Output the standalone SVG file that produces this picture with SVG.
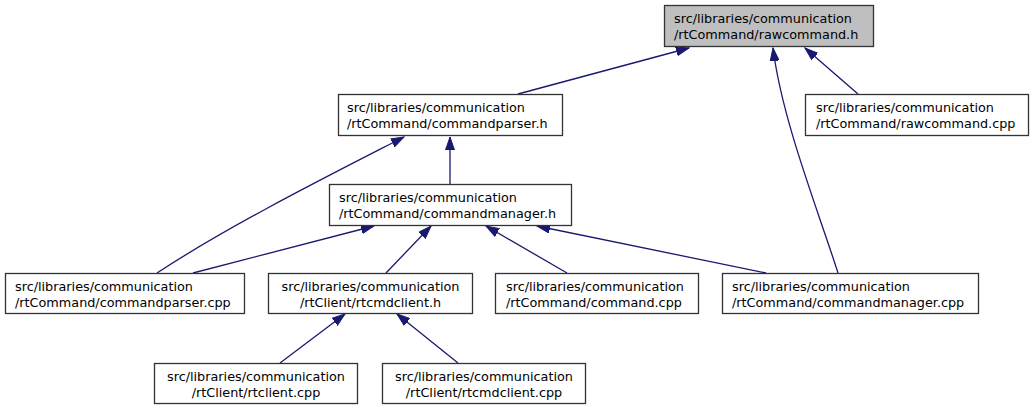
<svg xmlns="http://www.w3.org/2000/svg" width="1033" height="409" viewBox="0 0 1033 409">
<style>
.box{fill:#ffffff;stroke:#333333;stroke-width:1.3}
.root{fill:#bfbfbf;stroke:#333333;stroke-width:1.3}
text{font-family:"DejaVu Sans",sans-serif;font-size:12.8px;fill:#000000}
.c{text-anchor:middle}
.e{fill:none;stroke:#191970;stroke-width:1.3;marker-end:url(#ah)}
</style>
<defs>
<marker id="ah" markerUnits="userSpaceOnUse" markerWidth="14" markerHeight="10" refX="13" refY="5" orient="auto">
<path d="M0,0.5 L13,5 L0,9.5 z" fill="#191970" stroke="#191970" stroke-width="1"/>
</marker>
</defs>
<g id="edges">
<path class="e" d="M518,94 L689,48"/>
<path class="e" d="M838,273 C818,210 782,120 773,48"/>
<path class="e" d="M858,94 L805,48"/>
<path class="e" d="M450,184 L450,137"/>
<path class="e" d="M157,273 C230,225 330,175 404,137"/>
<path class="e" d="M193,273 L374,226"/>
<path class="e" d="M386,273 L431,226"/>
<path class="e" d="M567,273 L486,226"/>
<path class="e" d="M766,273 L537,226"/>
<path class="e" d="M280,363 L345,314"/>
<path class="e" d="M458,363 L397,314"/>
</g>
<g id="rawcommand_h">
<rect class="root" x="664.5" y="5.5" width="209" height="41"/>
<text x="674" y="23">src/libraries/communication</text>
<text x="674" y="39">/rtCommand/rawcommand.h</text>
</g>
<g id="commandparser_h">
<rect class="box" x="338.5" y="94.5" width="224" height="41"/>
<text x="347" y="112">src/libraries/communication</text>
<text x="347" y="128">/rtCommand/commandparser.h</text>
</g>
<g id="rawcommand_cpp">
<rect class="box" x="805.5" y="94.5" width="223" height="41"/>
<text x="816" y="112">src/libraries/communication</text>
<text x="816" y="128">/rtCommand/rawcommand.cpp</text>
</g>
<g id="commandmanager_h">
<rect class="box" x="329.5" y="184.5" width="242" height="41"/>
<text x="339" y="202">src/libraries/communication</text>
<text x="339" y="218">/rtCommand/commandmanager.h</text>
</g>
<g id="commandparser_cpp">
<rect class="box" x="5.5" y="273.5" width="239" height="40"/>
<text x="15" y="291">src/libraries/communication</text>
<text x="15" y="307">/rtCommand/commandparser.cpp</text>
</g>
<g id="rtcmdclient_h">
<rect class="box" x="268.5" y="273.5" width="204" height="40"/>
<text class="c" x="370.5" y="291">src/libraries/communication</text>
<text class="c" x="370.5" y="307">/rtClient/rtcmdclient.h</text>
</g>
<g id="command_cpp">
<rect class="box" x="495.5" y="273.5" width="203" height="40"/>
<text x="506" y="291">src/libraries/communication</text>
<text x="506" y="307">/rtCommand/command.cpp</text>
</g>
<g id="commandmanager_cpp">
<rect class="box" x="722.5" y="273.5" width="256" height="40"/>
<text x="732" y="291">src/libraries/communication</text>
<text x="732" y="307">/rtCommand/commandmanager.cpp</text>
</g>
<g id="rtclient_cpp">
<rect class="box" x="154.5" y="363.5" width="203" height="40"/>
<text class="c" x="256" y="381">src/libraries/communication</text>
<text class="c" x="256" y="397">/rtClient/rtclient.cpp</text>
</g>
<g id="rtcmdclient_cpp">
<rect class="box" x="382.5" y="363.5" width="203" height="40"/>
<text class="c" x="484" y="381">src/libraries/communication</text>
<text class="c" x="484" y="397">/rtClient/rtcmdclient.cpp</text>
</g>
</svg>
